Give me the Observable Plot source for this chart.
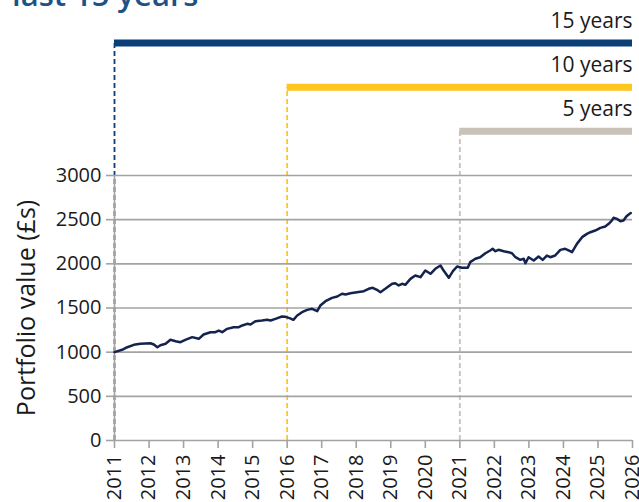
<!DOCTYPE html>
<html>
<head>
<meta charset="utf-8">
<script src="https://cdn.jsdelivr.net/npm/d3@7"></script>
<script src="https://cdn.jsdelivr.net/npm/@observablehq/plot@0.6"></script>
<style>
  html, body { margin: 0; padding: 0; background: #fff; }
  #chart svg { display: block; }
</style>
</head>
<body>
<div id="chart"></div>
<script>
// ---- data ----
const titleText = "last 15 years";
const yLabel = "Portfolio value (£s)";
const yearTicks = [2011, 2012, 2013, 2014, 2015, 2016, 2017, 2018, 2019, 2020, 2021, 2022, 2023, 2024, 2025, 2026];
const valueTicks = [0, 500, 1000, 1500, 2000, 2500, 3000];
const periodLabels = ["15 years", "10 years", "5 years"];
const periodStarts = [2011, 2016, 2021];
const endYear = 2026;

const times = [
  2011.00, 2011.22, 2011.37, 2011.56, 2011.75, 2012.04, 2012.14, 2012.24, 2012.33, 2012.48,
  2012.62, 2012.77, 2012.91, 2013.05, 2013.25, 2013.44, 2013.58, 2013.78, 2013.92, 2014.02,
  2014.12, 2014.26, 2014.45, 2014.60, 2014.70, 2014.84, 2014.94, 2015.08, 2015.27, 2015.42,
  2015.52, 2015.66, 2015.85, 2015.95, 2016.07, 2016.18, 2016.29, 2016.43, 2016.58, 2016.72,
  2016.87, 2016.96, 2017.11, 2017.30, 2017.45, 2017.59, 2017.69, 2017.83, 2018.02, 2018.22,
  2018.36, 2018.48, 2018.60, 2018.70, 2018.84, 2019.04, 2019.13, 2019.23, 2019.33, 2019.42,
  2019.57, 2019.71, 2019.86, 2020.00, 2020.15, 2020.29, 2020.44, 2020.53, 2020.68, 2020.80,
  2020.92, 2021.06, 2021.23, 2021.30, 2021.45, 2021.59, 2021.74, 2021.88, 2021.95, 2022.03,
  2022.12, 2022.27, 2022.41, 2022.51, 2022.61, 2022.75, 2022.85, 2022.90, 2022.99, 2023.14,
  2023.28, 2023.40, 2023.52, 2023.62, 2023.76, 2023.91, 2024.05, 2024.15, 2024.25, 2024.39,
  2024.54, 2024.68, 2024.78, 2024.92, 2025.07, 2025.21, 2025.31, 2025.40, 2025.45, 2025.55,
  2025.65, 2025.74, 2025.82, 2025.89, 2025.95
];
const values = [
  1000, 1027, 1056, 1083, 1095, 1101, 1087, 1056, 1079, 1095,
  1140, 1124, 1113, 1140, 1170, 1151, 1200, 1226, 1226, 1245,
  1226, 1264, 1283, 1283, 1302, 1321, 1313, 1351, 1358, 1366,
  1358, 1377, 1404, 1400, 1385, 1366, 1415, 1453, 1479, 1491,
  1464, 1528, 1577, 1615, 1630, 1661, 1653, 1667, 1679, 1690,
  1717, 1729, 1706, 1679, 1717, 1774, 1781, 1755, 1774, 1762,
  1830, 1868, 1849, 1924, 1887, 1944, 1981, 1924, 1842, 1917,
  1970, 1955, 1955, 2019, 2057, 2075, 2120, 2151, 2170, 2143,
  2159, 2143, 2132, 2120, 2075, 2045, 2057, 2007, 2075, 2038,
  2083, 2045, 2094, 2075, 2094, 2158, 2170, 2151, 2132, 2226,
  2302, 2339, 2358, 2377, 2407, 2422, 2453, 2490, 2521, 2509,
  2483, 2490, 2536, 2558, 2575
];

// ---- styles ----
const periodColors = ["#0b3f78", "#ffc61e", "#c8c2b8"];
const gridColor = "#a3a3a3";
const lineColor = "#14234e";

const series = times.map((t, i) => ({t, v: values[i]}));
const periods = periodLabels.map((label, i) => ({
  label,
  start: periodStarts[i],
  color: periodColors[i],
  level: valueTicks[valueTicks.length - 1] + 500 * (periodLabels.length - i)
}));

const svg = Plot.plot({
  width: 639,
  height: 502,
  marginLeft: 114,
  marginRight: 7,
  marginTop: 175,
  marginBottom: 62,
  style: {
    fontFamily: "'Open Sans', sans-serif",
    fontSize: "20px",
    color: "#1a1a1a",
    background: "#fff",
    overflow: "visible"
  },
  x: {domain: [yearTicks[0], endYear]},
  y: {domain: [0, valueTicks[valueTicks.length - 1]]},
  color: {type: "identity"},
  marks: [
    Plot.ruleX(periods, {x: "start", y1: () => 0, y2: "level", stroke: "color", strokeWidth: 1.8, strokeDasharray: "5,3"}),
    Plot.ruleY(valueTicks, {stroke: gridColor, strokeWidth: 1.6}),
    Plot.ruleX([yearTicks[0]], {stroke: gridColor, strokeWidth: 1.6}),
    Plot.axisY({ticks: valueTicks, tickFormat: d => String(d), tickSize: 8, tickPadding: 5, stroke: gridColor, strokeWidth: 1.6, label: null, fontSize: 20}),
    Plot.axisX({ticks: yearTicks, tickFormat: d => String(d), tickRotate: -90, tickSize: 8, tickPadding: 6, stroke: gridColor, strokeWidth: 1.6, label: null, fontSize: 20}),
    Plot.line(series, {x: "t", y: "v", stroke: lineColor, strokeWidth: 2.5}),
    Plot.ruleY(periods, {y: "level", x1: "start", x2: () => endYear, stroke: "color", strokeWidth: 7}),
    Plot.text(periods, {x: () => endYear, y: "level", text: "label", textAnchor: "end", dy: -22, fontSize: 21, fill: "#1a1a1a"}),
    Plot.text([yLabel], {frameAnchor: "left", textAnchor: "middle", rotate: -90, dx: -88, fontSize: 25, fill: "#1a1a1a"})
  ]
});

d3.select(svg).append("text")
  .attr("x", 12)
  .attr("y", 6)
  .attr("text-anchor", "start")
  .attr("fill", "#1b5287")
  .attr("font-size", 31)
  .attr("font-weight", 600)
  .attr("font-family", "'Open Sans', sans-serif")
  .text(titleText);

document.getElementById("chart").appendChild(svg);
</script>
</body>
</html>
